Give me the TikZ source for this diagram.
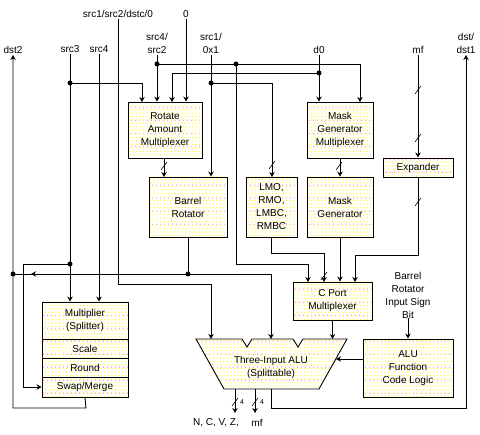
\documentclass[tikz,border=0pt]{standalone}
\usepackage{fontspec}
\setmainfont{Liberation Sans}
\usetikzlibrary{arrows.meta,patterns.meta}
\tikzdeclarepattern{name=magrows, type=uncolored,
  bounding box={(0pt,0pt) and (3.5pt,13pt)}, tile size={(3.5pt,13pt)},
  code={\fill (1.75pt,3pt) circle (0.5pt);}}
\begin{document}
\begin{tikzpicture}[x=1pt,y=-1pt,
  font=\fontsize{10}{13}\selectfont,
  wire/.style={line width=0.9pt},
  arr/.style={wire,-{Stealth[length=5pt,width=5.5pt]}},
  dotfill/.style={preaction={pattern=magrows,pattern color=magenta!80},pattern={Dots[distance=3.5pt,radius=0.55pt]},pattern color=yellow},
  box/.style={draw,line width=0.9pt,dotfill,align=center,inner sep=0pt},
  lbl/.style={anchor=south,inner sep=1pt,align=center},
  txt/.style={inner sep=0pt,align=center},
  jdot/.style={circle,fill,inner sep=0pt,minimum size=5pt},
  bus/.style={line width=0.6pt},
]
\useasboundingbox (0,0) rectangle (480,435);

% ---- top labels ----
\node[lbl] (dsttwo) at (13,55) {dst2};
\node[lbl] (srcthree) at (70,54) {src3};
\node[lbl] (srcfour) at (99,54) {src4};
\node[lbl] (srcone) at (118,19) {src1/src2/dstc/0};
\node[lbl] (zero) at (186,19) {0};
\node[lbl] (srcfourtwo) at (157,55) {src4/\\src2};
\node[lbl] (srconex) at (211,55) {src1/\\0x1};
\node[lbl] (dzero) at (319,55) {d0};
\node[lbl] (mf) at (418,55) {mf};
\node[lbl] (dstone) at (466,55) {dst/\\dst1};

% ---- boxes ----
\node[box,minimum width=74pt,minimum height=56pt] (RAM) at (165,130) {Rotate\\Amount\\Multiplexer};
\node[box,minimum width=78pt,minimum height=60pt] (BR) at (188,207) {Barrel\\Rotator};
\node[box,minimum width=51pt,minimum height=60pt] (LMO) at (271.5,207) {LMO,\\RMO,\\LMBC,\\RMBC};
\node[box,minimum width=66pt,minimum height=56pt] (MGM) at (340,130) {Mask\\Generator\\Multiplexer};
\node[box,minimum width=66pt,minimum height=60pt] (MG) at (340,207) {Mask\\Generator};
\node[box,minimum width=70pt,minimum height=19pt] (EXP) at (418,167.5) {Expander};
\node[box,minimum width=79pt,minimum height=38pt] (CPM) at (332.5,301) {C Port\\Multiplexer};
\node[box,minimum width=90pt,minimum height=58pt] (AFC) at (408,368) {ALU\\Function\\Code Logic};
\node[box,minimum width=86pt,minimum height=37pt] (MUL) at (85,320.5) {Multiplier\\(Splitter)};
\node[box,minimum width=86pt,minimum height=19pt] (SCL) at (85,348.5) {Scale};
\node[box,minimum width=86pt,minimum height=19pt] (RND) at (85,367.5) {Round};
\node[box,minimum width=86pt,minimum height=20pt] (SWP) at (85,387) {Swap/Merge};

% ---- ALU ----
\draw[wire,dotfill] (196,339) -- (242,339) -- (247,347) -- (252,339) -- (293,339) -- (298,347) -- (303,339) -- (347,339) -- (319,389) -- (224,389) -- cycle;
\node[txt] (ALU) at (271,367) {Three-Input ALU\\(Splittable)};

\node[txt] (sign) at (408,295) {Barrel\\Rotator\\Input Sign\\Bit};
\node[txt,anchor=center] (flags) at (216,423) {N, C, V, Z,};
\node[txt] (mfout) at (257,423) {mf};
\node[txt,font=\fontsize{7}{8}\selectfont] (four1) at (242,402) {4};
\node[txt,font=\fontsize{7}{8}\selectfont] (four2) at (262,402) {4};

% ---- junctions ----
\node[jdot] (j3a) at (70,83) {};
\node[jdot] (j3b) at (70,264) {};
\node[jdot] (j42) at (157,64) {};
\node[jdot] (jmid) at (236,64) {};
\node[jdot] (jd0) at (319,73) {};
\node[jdot] (j1x) at (211,83) {};
\node[jdot] (jbr) at (188,274) {};
\node[jdot] (jdst) at (13,274) {};

% ---- connectors ----
\draw[arr] (srcthree.south) -- (srcthree.south |- MUL.north);
\draw[arr] (j3a.center) -| (142,102);
\draw[arr] (j3b.center) -| (23,387) -- (SWP.west |- 0,387);
\draw[arr] (srcfour.south) -- (srcfour.south |- MUL.north);
\draw[arr] (srcone.south) -- (118,284) -| (211,339);
\draw[arr] (zero.south) -- (zero.south |- RAM.north);
\draw[arr] (srcfourtwo.south) -- (srcfourtwo.south |- RAM.north);
\draw[arr] (j42.center) -| (360,102);
\draw[arr] (jmid.center) -- (236,264) -| (308,282);
\draw[arr] (dzero.south) -- (dzero.south |- MGM.north);
\draw[arr] (jd0.center) -| (172,102);
\draw[arr] (srconex.south) -- (srconex.south |- BR.north);
\draw[arr] (j1x.center) -| (272,177);
\draw[arr] (164,158) -- (164,177);
\draw[arr] (MGM.south) -- (MG.north);
\draw[arr] (mf.south) -- (mf.south |- EXP.north);
\draw[wire] (BR.south) -- (jbr.center);
\draw[arr] (jbr.center) -| (271,339);
\draw[wire] (jbr.center) -- (jdst.center);
\draw[arr] (40,274) -- (31,274);
\draw[arr] (271,237) -- (271,253) -| (324,282);
\draw[arr] (MG.south) -- (MG.south |- CPM.north);
\draw[arr] (EXP.south) -- (418,255) -| (355,282);
\draw[arr] (CPM.south) -- (CPM.south |- 0,339);
\draw[arr] (sign.south) -- (AFC.north);
\draw[arr] (AFC.west |- 0,359) -- (336,359);
\draw[arr] (235,389) -- (235,413);
\draw[arr] (255,389) -- (255,413);
\draw[arr] (271,389) -- (271,408) -| (dstone.south);
\draw[arr] (SWP.south) -- (86,408) -| (dsttwo.south);

% ---- bus slashes ----
\foreach \p in {(164,166),(272,165),(339,166),(418,90),(418,138),(418,202),(324,276),(235,402),(255,402)}
  \draw[bus] \p ++(-3,4) -- ++(6,-8);
\end{tikzpicture}
\end{document}
